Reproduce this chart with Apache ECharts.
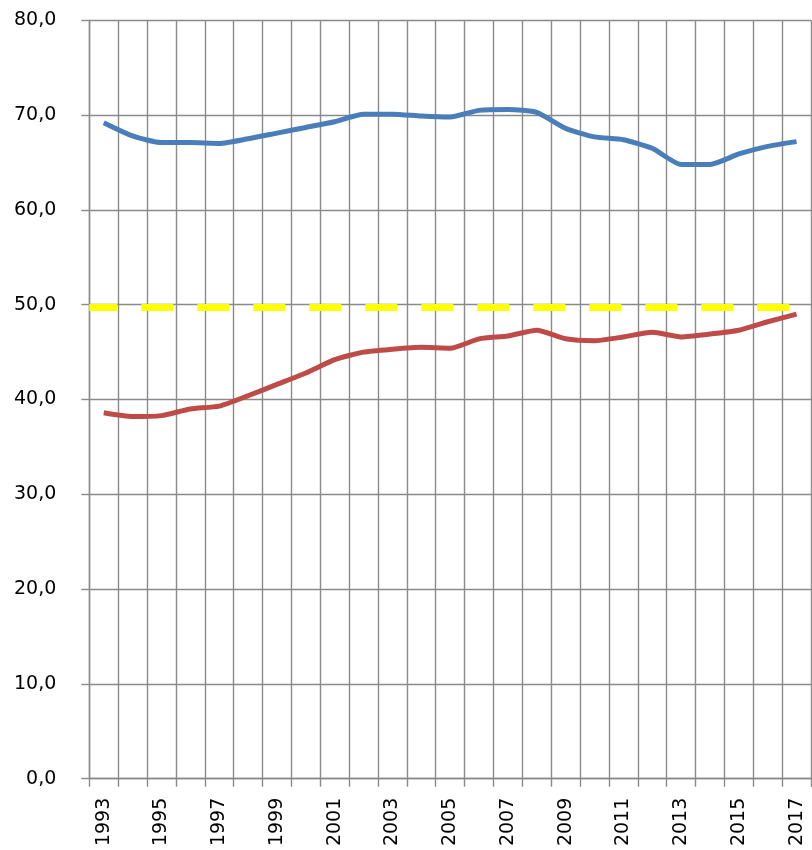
<!DOCTYPE html>
<html>
<head>
<meta charset="utf-8">
<script src="https://cdn.jsdelivr.net/npm/echarts@6/dist/echarts.min.js"></script>
<style>
  html, body { margin: 0; padding: 0; background: #fff; }
  #chart { width: 812px; height: 850px; }
</style>
</head>
<body>
<div id="chart"></div>
<script>
const years = ['1993', '1994', '1995', '1996', '1997', '1998', '1999', '2000', '2001', '2002',
  '2003', '2004', '2005', '2006', '2007', '2008', '2009', '2010', '2011', '2012',
  '2013', '2014', '2015', '2016', '2017']
const blueValues = [69.2, 67.8, 67.1, 67.1, 67.0, 67.5, 68.1, 68.7, 69.3, 70.1,
  70.1, 69.9, 69.8, 70.5, 70.6, 70.3, 68.6, 67.7, 67.4, 66.5,
  64.8, 64.8, 65.9, 66.7, 67.2]
const redValues = [38.6, 38.2, 38.3, 39.0, 39.3, 40.4, 41.6, 42.8, 44.2, 45.0,
  45.3, 45.5, 45.4, 46.4, 46.7, 47.3, 46.4, 46.2, 46.6, 47.1,
  46.6, 46.9, 47.3, 48.2, 49.0]
const threshold = 49.7

const gridColor = '#8a8a8a'
const font = 'DejaVu Sans'

const myChart = echarts.init(document.getElementById('chart'), null, { renderer: 'canvas' })

const option = {
  animation: false,
  grid: {
    left: 89.3,
    right: 1,
    top: 20.3,
    bottom: 71.3,
    containLabel: false,
    outerBoundsMode: 'none'
  },
  xAxis: {
    type: 'category',
    data: years,
    boundaryGap: true,
    axisLine: { show: true, lineStyle: { color: gridColor, width: 1.4 } },
    axisTick: { show: true, interval: 0, length: 8, lineStyle: { color: gridColor, width: 1.4 } },
    splitLine: { show: true, interval: 0, lineStyle: { color: gridColor, width: 1.4 } },
    axisLabel: {
      interval: 1,
      rotate: 90,
      align: 'right',
      verticalAlign: 'middle',
      margin: 19,
      color: '#000',
      fontFamily: font,
      fontSize: 19
    }
  },
  yAxis: {
    type: 'value',
    min: 0,
    max: 80,
    interval: 10,
    axisLine: { show: true, lineStyle: { color: gridColor, width: 1.4 } },
    axisTick: { show: true, length: 8, lineStyle: { color: gridColor, width: 1.4 } },
    splitLine: { show: true, lineStyle: { color: gridColor, width: 1.4 } },
    axisLabel: {
      margin: 33,
      color: '#000',
      fontFamily: font,
      fontSize: 19,
      formatter: v => v.toFixed(1).replace('.', ',')
    }
  },
  series: [
    {
      name: 'blue',
      type: 'line',
      data: blueValues,
      smooth: 0.2,
      showSymbol: false,
      lineStyle: { color: '#4a7ebb', width: 5 },
      itemStyle: { color: '#4a7ebb' },
      z: 3,
      markLine: {
        silent: true,
        symbol: 'none',
        label: { show: false },
        lineStyle: {
          color: '#ffff00',
          width: 7,
          type: [32, 24],
          dashOffset: 4
        },
        data: [{ yAxis: threshold }]
      }
    },
    {
      name: 'red',
      type: 'line',
      data: redValues,
      smooth: 0.2,
      showSymbol: false,
      lineStyle: { color: '#be4b48', width: 5 },
      itemStyle: { color: '#be4b48' },
      z: 3
    }
  ]
}

myChart.setOption(option)
</script>
</body>
</html>
